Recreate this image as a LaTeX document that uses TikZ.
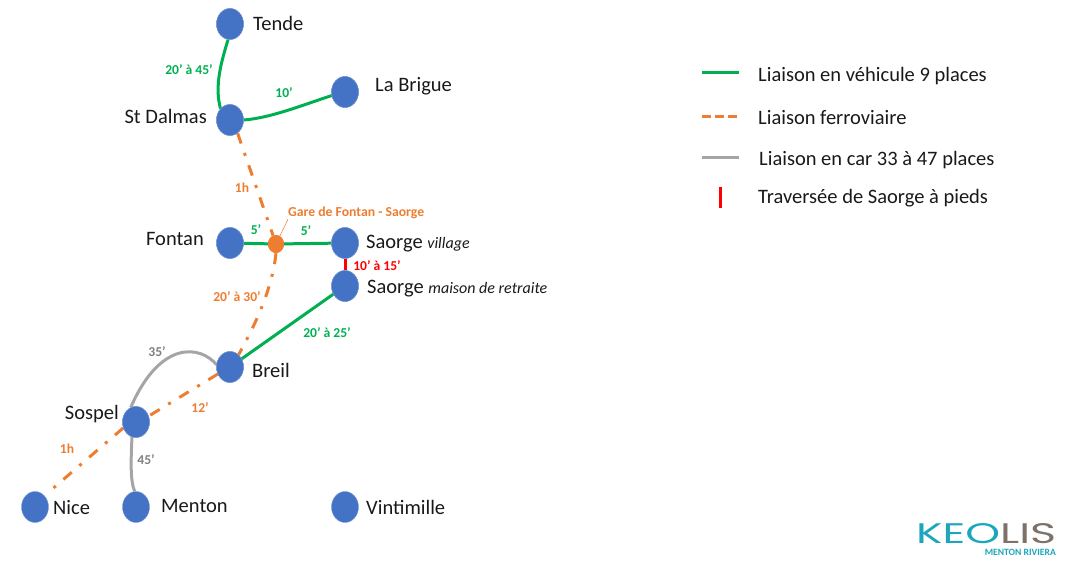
\documentclass[tikz,border=0pt]{standalone}
\usepackage{fontspec}
\setmainfont{Carlito}
\newfontfamily\logofont{Poppins}
\usetikzlibrary{shapes.geometric}
\definecolor{cgreen}{HTML}{00B050}
\definecolor{corange}{HTML}{ED7D31}
\definecolor{cgrey}{HTML}{A5A5A5}
\definecolor{cgreytxt}{HTML}{7F7F7F}
\definecolor{cblue}{HTML}{4472C4}
\definecolor{cteal}{HTML}{1BA6BC}
\definecolor{cbrown}{HTML}{7D7168}
\tikzset{
  stop/.style={ellipse,fill=cblue,draw=cblue!70!white,line width=0.4pt,minimum width=27pt,minimum height=31pt,inner sep=0pt},
  gare/.style={ellipse,fill=corange,minimum width=16pt,minimum height=18pt,inner sep=0pt},
  place/.style={font=\fontsize{20.5}{23}\selectfont,text=black!90,inner sep=0pt},
  legendtxt/.style={place,anchor=west,font=\fontsize{20.5}{23}\selectfont},
  gl/.style={font=\fontsize{13.6}{15}\selectfont\bfseries,text=cgreen,inner sep=0pt},
  ol/.style={gl,text=corange},
  gyl/.style={gl,text=cgreytxt},
  rl/.style={gl,text=red},
  vehicule/.style={draw=cgreen,line width=3pt},
  train/.style={draw=corange,line width=3pt,dash pattern=on 11pt off 10pt on 3pt off 10pt},
  car/.style={draw=cgrey,line width=3pt},
  pied/.style={draw=red,line width=3pt}
}
\begin{document}
\begin{tikzpicture}[x=1pt,y=-1pt]
\useasboundingbox (0,0) rectangle (1074,567);
\node[stop] (tende) at (230,24) {};
\node[stop] (brigue) at (345,92) {};
\node[stop] (dalmas) at (230,120) {};
\node[stop] (fontan) at (230,243) {};
\node[stop] (village) at (345,243) {};
\node[stop] (maison) at (345,286) {};
\node[stop] (breil) at (230,367) {};
\node[stop] (sospel) at (136,422) {};
\node[stop] (nice) at (35,507) {};
\node[stop] (menton) at (136,507) {};
\node[stop] (vintimille) at (345,507) {};
\node[gare] (gare) at (276,244) {};
\node[ol,anchor=west,font=\fontsize{13.7}{15}\selectfont\bfseries] (garelbl) at (288,213) {Gare de Fontan - Saorge};

\draw[vehicule] (tende.south) ++(-2,0) coordinate (t1) (t1) .. controls (222,60) and (214,85) .. (dalmas.130);
\draw[vehicule] (dalmas.east) .. controls (270,118) and (300,106) .. (brigue.195);
\draw[vehicule] (fontan) -- (gare);
\draw[vehicule] (gare) -- (village);
\draw[vehicule] (maison.215) -- (breil.35);
\draw[pied] (village) -- (maison);
\draw[train] (dalmas.-60) -- (gare);
\draw[train] (gare.south) .. controls (272,290) and (255,325) .. (breil.55);
\draw[train] (breil.210) -- (sospel.25);
\draw[train,shorten >=9pt] (sospel.205) -- (nice.50);
\draw[car] (breil.170) .. controls (200,345) and (160,340) .. (sospel.110);
\draw[car] (sospel.255) .. controls (131,460) and (130,480) .. (menton.95);
\draw[corange,line width=0.5pt] (gare) -- (garelbl.south west);

\node[stop] at (tende) {};
\node[stop] at (brigue) {};
\node[stop] at (dalmas) {};
\node[stop] at (fontan) {};
\node[stop] at (village) {};
\node[stop] at (maison) {};
\node[stop] at (breil) {};
\node[stop] at (sospel) {};
\node[gare] at (gare) {};

\node[place,anchor=west] (lt) at (253,23) {Tende};
\node[place,anchor=west] (lb) at (375,86) {La Brigue};
\node[place,anchor=east] (ld) at (207,116) {St Dalmas};
\node[place,anchor=east] (lf) at (204,239) {Fontan};
\node[place,anchor=west] (lv) at (366,244) {Saorge \fontsize{16}{18}\selectfont\itshape village};
\node[place,anchor=west] (lm) at (367,289) {Saorge \fontsize{16}{18}\selectfont\itshape maison de retraite};
\node[place,anchor=west] (lbr) at (252,370) {Breil};
\node[place,anchor=east] (ls) at (119,414) {Sospel};
\node[place,anchor=west] (ln) at (53,508) {Nice};
\node[place,anchor=west] (lme) at (161,506) {Menton};
\node[place,anchor=west] (lvi) at (366,507) {Vintimille};

\node[gl] (a) at (189,70) {20’ à 45’};
\node[gl] (b) at (284,93) {10’};
\node[ol] (c) at (242,188) {1h};
\node[gl] (d) at (256,230) {5’};
\node[gl] (e) at (306,231) {5’};
\node[rl] (f) at (377,266) {10’ à 15’};
\node[ol] (g) at (237,297) {20’ à 30’};
\node[gl] (h) at (327,333) {20’ à 25’};
\node[gyl] (i) at (157,352) {35’};
\node[ol] (j) at (200,408) {12’};
\node[gyl] (k) at (146,460) {45’};
\node[ol] (l) at (67,449) {1h};

\coordinate (la1) at (702,73); \coordinate (la2) at (739,73);
\coordinate (lb1) at (702,117); \coordinate (lb2) at (737,117);
\coordinate (lc1) at (702,158); \coordinate (lc2) at (739,158);
\coordinate (ld1) at (720,187); \coordinate (ld2) at (720,208);
\draw[vehicule] (la1) -- (la2);
\draw[draw=corange,line width=3pt,dash pattern=on 9pt off 4pt] (lb1) -- (lb2);
\draw[car] (lc1) -- (lc2);
\draw[pied] (ld1) -- (ld2);
\node[legendtxt] (t1l) at (758,76) {Liaison en véhicule 9 places};
\node[legendtxt] (t2l) at (758,118) {Liaison ferroviaire};
\node[legendtxt] (t3l) at (759,160) {Liaison en car 33 à 47 places};
\node[legendtxt] (t4l) at (758,198) {Traversée de Saorge à pieds};

\node[inner sep=0pt,anchor=south west] (logo) at (916,544) {\resizebox{140pt}{20pt}{\logofont\textcolor{cteal}{KEO}\textcolor{cbrown}{LIS}}};
\node[inner sep=0pt,anchor=east,text=cteal,font=\fontsize{9.6}{10}\selectfont\bfseries] (logosub) at (1056,552) {MENTON RIVIERA};
\end{tikzpicture}
\end{document}
